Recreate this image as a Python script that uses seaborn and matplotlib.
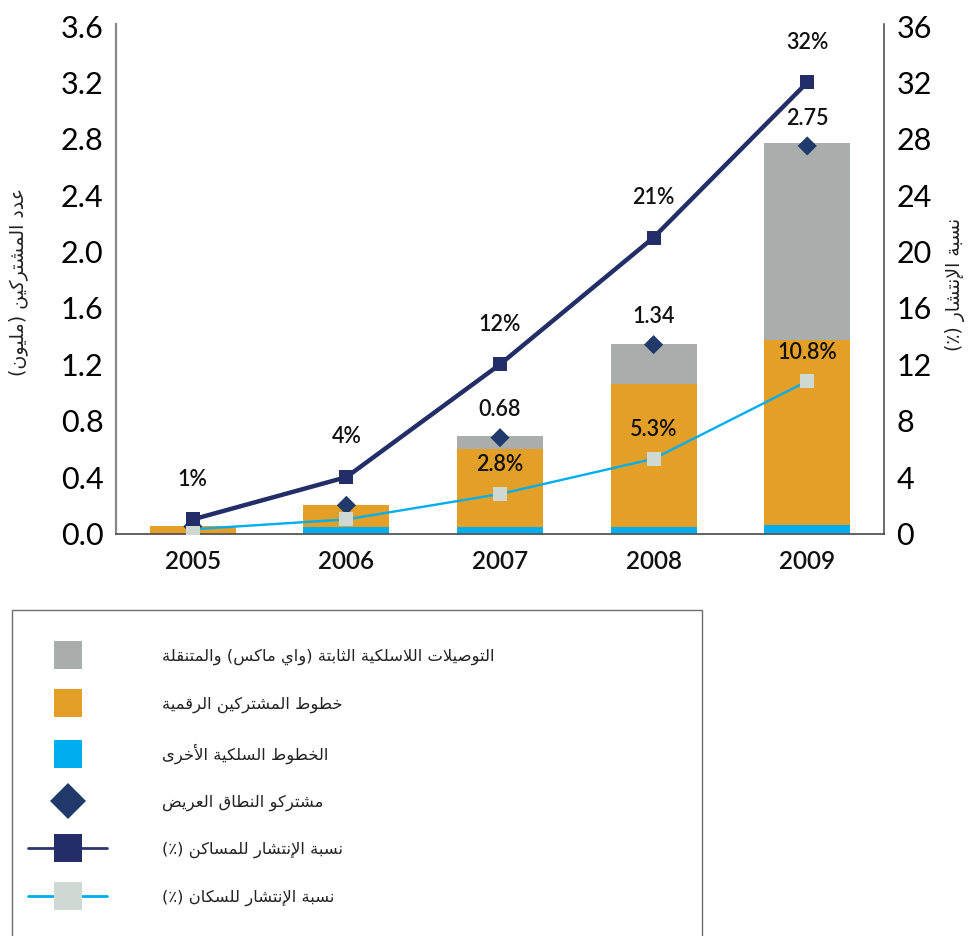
import numpy as np
import pandas as pd
import matplotlib
matplotlib.use("Agg")
import matplotlib.pyplot as plt
from matplotlib.lines import Line2D
from matplotlib.patches import Rectangle
import seaborn as sns

# ---------------- data ----------------
years = ["2005", "2006", "2007", "2008", "2009"]
other_wired = [0.0, 0.045, 0.045, 0.048, 0.06]      # millions
dsl = [0.05, 0.155, 0.555, 1.01, 1.31]             # millions
wireless = [0.0, 0.0, 0.09, 0.29, 1.40]            # millions
subscribers = [0.05, 0.2, 0.68, 1.34, 2.75]        # millions
subscriber_labels = [None, None, "0.68", "1.34", "2.75"]
household_pct = [1, 4, 12, 21, 32]
household_labels = ["1%", "4%", "12%", "21%", "32%"]
population_pct = [0.3, 1.0, 2.8, 5.3, 10.8]
population_labels = [None, None, "2.8%", "5.3%", "10.8%"]
left_ticks = [0.0, 0.4, 0.8, 1.2, 1.6, 2.0, 2.4, 2.8, 3.2, 3.6]
right_ticks = [0, 4, 8, 12, 16, 20, 24, 28, 32, 36]

lab_wireless = "التوصيلات اللاسلكية الثابتة (واي ماكس) والمتنقلة"
lab_dsl = "خطوط المشتركين الرقمية"
lab_other = "الخطوط السلكية الأخرى"
lab_subs = "مشتركو النطاق العريض"
lab_house = "نسبة الإنتشار للمساكن (٪)"
lab_pop = "نسبة الإنتشار للسكان (٪)"
ylabel_left = "عدد المشتركين (مليون)"
ylabel_right = "نسبة الإنتشار (٪)"

# ---------------- minimal Arabic shaping (matplotlib has no shaping) ----------------
AR_FORMS = {
    'ء': (0xFE80, 1), 'آ': (0xFE81, 2), 'أ': (0xFE83, 2), 'ؤ': (0xFE85, 2), 'إ': (0xFE87, 2),
    'ئ': (0xFE89, 4), 'ا': (0xFE8D, 2), 'ب': (0xFE8F, 4), 'ة': (0xFE93, 2), 'ت': (0xFE95, 4),
    'ث': (0xFE99, 4), 'ج': (0xFE9D, 4), 'ح': (0xFEA1, 4), 'خ': (0xFEA5, 4), 'د': (0xFEA9, 2),
    'ذ': (0xFEAB, 2), 'ر': (0xFEAD, 2), 'ز': (0xFEAF, 2), 'س': (0xFEB1, 4), 'ش': (0xFEB5, 4),
    'ص': (0xFEB9, 4), 'ض': (0xFEBD, 4), 'ط': (0xFEC1, 4), 'ظ': (0xFEC5, 4), 'ع': (0xFEC9, 4),
    'غ': (0xFECD, 4), 'ف': (0xFED1, 4), 'ق': (0xFED5, 4), 'ك': (0xFED9, 4), 'ل': (0xFEDD, 4),
    'م': (0xFEE1, 4), 'ن': (0xFEE5, 4), 'ه': (0xFEE9, 4), 'و': (0xFEED, 2), 'ى': (0xFEEF, 2),
    'ي': (0xFEF1, 4),
}
LAM_ALEF = {'آ': 0xFEF5, 'أ': 0xFEF7, 'إ': 0xFEF9, 'ا': 0xFEFB}


def shape_ar(s):
    toks = []
    i = 0
    while i < len(s):
        c = s[i]
        if c == 'ل' and i + 1 < len(s) and s[i + 1] in LAM_ALEF:
            toks.append(('LA', LAM_ALEF[s[i + 1]]))
            i += 2
        else:
            toks.append(('C', c))
            i += 1

    def joins_next(t):
        return t[0] == 'C' and t[1] in AR_FORMS and AR_FORMS[t[1]][1] == 4

    def is_ar(t):
        return t[0] == 'LA' or t[1] in AR_FORMS

    out = []
    for k, t in enumerate(toks):
        prev = toks[k - 1] if k > 0 else None
        nxt = toks[k + 1] if k + 1 < len(toks) else None
        jp = prev is not None and joins_next(prev)
        if t[0] == 'LA':
            out.append(chr(t[1] + (1 if jp else 0)))
            continue
        c = t[1]
        if c not in AR_FORMS:
            out.append(c)
            continue
        base, n = AR_FORMS[c]
        jn = n == 4 and nxt is not None and is_ar(nxt)
        if n == 1:
            f = base
        elif n == 2:
            f = base + (1 if jp else 0)
        else:
            if jp and jn:
                f = base + 3
            elif jp:
                f = base + 1
            elif jn:
                f = base + 2
            else:
                f = base
        out.append(chr(f))
    vis = ''.join(reversed(out))
    return vis.translate(str.maketrans('()', ')('))


# ---------------- style ----------------
sns.set_theme(style="white")
plt.rcParams['font.family'] = ['Lato', 'DejaVu Sans']
AR_FONT = ['DejaVu Sans', 'Noto Sans']

C_GRAY = "#A9ADAB"
C_ORANGE = "#E39F26"
C_BLUE = "#00AEEF"
C_NAVY = "#232D67"
C_DIAMOND = "#1F3A6B"
C_LIGHTSQ = "#D0D8D4"

fig = plt.figure(figsize=(9.7, 9.36), dpi=100)
ax = fig.add_axes([116 / 970, (936 - 533.5) / 936, (884 - 116) / 970, (533.5 - 24) / 936])

df = pd.DataFrame({"year": years, "other": other_wired, "dsl": dsl, "wireless": wireless})
df["lvl1"] = df["other"]
df["lvl2"] = df["other"] + df["dsl"]
df["lvl3"] = df["lvl2"] + df["wireless"]

for col, colr in [("lvl3", C_GRAY), ("lvl2", C_ORANGE), ("lvl1", C_BLUE)]:
    sns.barplot(data=df, x="year", y=col, color=colr, saturation=1, width=0.56,
                ax=ax, edgecolor="none", linewidth=0)

xs = np.arange(len(years))
ax.set_xlim(-0.5, len(years) - 0.5)
ax.set_ylim(0, 3.615)
ax.set_yticks(left_ticks)
ax.set_yticklabels([f"{v:.1f}" for v in left_ticks])
ax.set_xlabel("")
ax.set_ylabel("")
ax.set_xticks(xs)
ax.set_xticklabels(years)
ax.set_xticks(xs[:-1] + 0.5, minor=True)
ax.tick_params(axis="x", which="major", length=0, pad=12, labelsize=17.5, labelcolor="#111")
ax.tick_params(axis="x", which="minor", direction="in", length=9, width=1, color="#333")
ax.tick_params(axis="y", which="major", length=0, pad=9, labelsize=22, labelcolor="#000")
for lab in ax.get_xticklabels():
    lab.set_fontweight("semibold")
for lab in ax.get_yticklabels():
    lab.set_fontweight("normal")
ax.spines["top"].set_visible(False)
ax.spines["right"].set_visible(False)
ax.spines["left"].set_color("#8A8A8A")
ax.spines["left"].set_linewidth(1.6)
ax.spines["bottom"].set_color("#555555")
ax.spines["bottom"].set_linewidth(1.3)
ax.grid(False)

# diamonds: total subscribers
sns.scatterplot(x=xs, y=subscribers, ax=ax, marker="D", s=95, color=C_DIAMOND,
                edgecolor="none", linewidth=0, zorder=5, legend=False)
for x, y, t in zip(xs, subscribers, subscriber_labels):
    if t:
        ax.annotate(t, (x, y), xytext=(0, 20), textcoords="offset points", ha="center",
                    va="center", fontsize=15.5, fontweight="semibold", color="#111")

# right axis: penetration %
ax2 = ax.twinx()
ax2.set_position(ax.get_position())
sns.lineplot(x=xs, y=population_pct, ax=ax2, color=C_BLUE, linewidth=1.7, marker="s",
             markersize=10, markerfacecolor=C_LIGHTSQ, markeredgecolor=C_LIGHTSQ,
             markeredgewidth=0, zorder=3)
sns.lineplot(x=xs, y=household_pct, ax=ax2, color=C_NAVY, linewidth=3.2, marker="s",
             markersize=10.5, markerfacecolor=C_NAVY, markeredgecolor=C_NAVY,
             markeredgewidth=0, zorder=4)
ax2.set_ylim(0, 36.15)
ax2.set_yticks(right_ticks)
ax2.set_yticklabels([str(v) for v in right_ticks])
ax2.tick_params(axis="y", length=0, pad=9, labelsize=22, labelcolor="#000")
for lab in ax2.get_yticklabels():
    lab.set_fontweight("normal")
ax2.set_ylabel("")
for sp in ["top", "left", "bottom"]:
    ax2.spines[sp].set_visible(False)
ax2.spines["right"].set_color("#444444")
ax2.spines["right"].set_linewidth(1.1)
ax2.grid(False)

for x, y, t in zip(xs, household_pct, household_labels):
    ax2.annotate(t, (x, y), xytext=(0, 29), textcoords="offset points", ha="center",
                 va="center", fontsize=15.5, fontweight="semibold", color="#111")
for x, y, t in zip(xs, population_pct, population_labels):
    if t:
        ax2.annotate(t, (x, y), xytext=(0, 21), textcoords="offset points", ha="center",
                     va="center", fontsize=15.5, fontweight="semibold", color="#111")

# axis titles (rotated Arabic)
fig.text(18 / 970, 1 - 282 / 936, shape_ar(ylabel_left), rotation=90, ha="center",
         va="center", fontsize=13.7, family=AR_FONT, color="#222")
fig.text(955 / 970, 1 - 284 / 936, shape_ar(ylabel_right), rotation=90, ha="center",
         va="center", fontsize=13.5, family=AR_FONT, color="#222")

# legend box
fig.patches.append(Rectangle((12 / 970, -0.05), 690 / 970, (936 - 610) / 936 + 0.05,
                             transform=fig.transFigure, fill=False, edgecolor="#6E6E6E",
                             linewidth=1.0))
handles = [
    Line2D([], [], ls="none", marker="s", ms=19.5, mfc=C_GRAY, mec=C_GRAY, mew=0),
    Line2D([], [], ls="none", marker="s", ms=19.5, mfc=C_ORANGE, mec=C_ORANGE, mew=0),
    Line2D([], [], ls="none", marker="s", ms=19.5, mfc=C_BLUE, mec=C_BLUE, mew=0),
    Line2D([], [], ls="none", marker="D", ms=18.5, mfc=C_DIAMOND, mec=C_DIAMOND, mew=0),
    Line2D([], [], color="#2F3470", lw=2.0, marker="s", ms=19.5, mfc=C_NAVY, mec=C_NAVY, mew=0),
    Line2D([], [], color=C_BLUE, lw=2.0, marker="s", ms=19.5, mfc=C_LIGHTSQ, mec=C_LIGHTSQ, mew=0),
]
labels = [shape_ar(t) for t in [lab_wireless, lab_dsl, lab_other, lab_subs, lab_house, lab_pop]]
fs_leg = 11.8
fs_px = fs_leg * 100 / 72
leg = fig.legend(handles, labels, loc="upper left", bbox_to_anchor=(28 / 970, 1 - 649 / 936),
                 frameon=False, borderpad=0, borderaxespad=0, handlelength=79 / fs_px,
                 handletextpad=55 / fs_px, labelspacing=1.88, prop={"family": AR_FONT, "size": fs_leg},
                 markerscale=1.0)
for t in leg.get_texts():
    t.set_color("#222")

fig.savefig("out.png", dpi=100)
